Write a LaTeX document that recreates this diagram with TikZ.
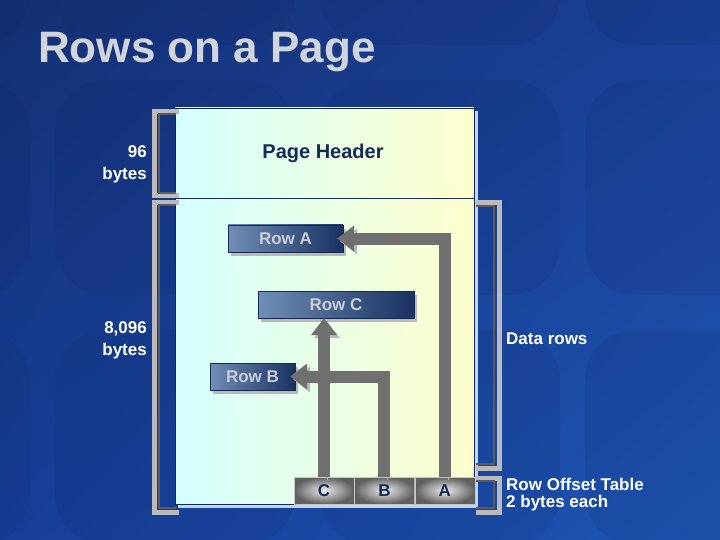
\documentclass[tikz,border=0pt]{standalone}
\usepackage{fontspec}
\setmainfont{Liberation Sans}
\usetikzlibrary{arrows.meta,shadows,shadings,positioning}

\definecolor{bgul}{RGB}{20,48,115}
\definecolor{bgur}{RGB}{26,64,150}
\definecolor{bgll}{RGB}{22,62,152}
\definecolor{bglr}{RGB}{30,86,180}
\definecolor{bgdeco}{RGB}{14,36,96}
\definecolor{navy}{RGB}{22,42,86}
\definecolor{titlegray}{RGB}{208,212,220}
\definecolor{rowlight}{RGB}{112,142,182}
\definecolor{rowdark}{RGB}{26,50,98}
\definecolor{rowtext}{RGB}{200,205,214}
\definecolor{pagecyan}{RGB}{212,255,255}
\definecolor{pageyellow}{RGB}{255,255,205}
\definecolor{pageedge}{RGB}{190,215,245}
\definecolor{arrowgray}{RGB}{112,112,112}
\definecolor{brlight}{RGB}{185,185,190}
\definecolor{brdark}{RGB}{90,90,95}

\tikzset{
  title/.style={text=titlegray, font=\bfseries\fontsize{44}{44}\selectfont, inner sep=0pt},
  lbl/.style={text=white, font=\bfseries\fontsize{17}{22}\selectfont, inner sep=0pt},
  rowbox/.style={draw=navy, left color=rowlight, right color=rowdark, text=rowtext,
    font=\bfseries\fontsize{17}{17}\selectfont, minimum height=27pt, inner sep=0pt,
    drop shadow={shadow xshift=3pt, shadow yshift=-4pt, fill=gray!55, opacity=1}},
  cell/.style={draw=gray!45, inner color=gray!15, outer color=gray!75!black, text=navy,
    font=\bfseries\fontsize{17}{17}\selectfont, minimum width=60pt, minimum height=27pt, inner sep=0pt},
  bigarrow/.style={line width=12pt, draw=arrowgray, line join=miter,
    -{Triangle[length=17pt,width=25pt]},
    preaction={draw=gray!55, transform canvas={xshift=3pt,yshift=-3pt}}},
  brlo/.style={line width=5pt, draw=brlight, line join=miter},
  brhi/.style={line width=2.5pt, draw=brdark, line join=miter},
  tile/.style={fill=bgdeco, opacity=0.12, rounded corners=50pt}
}

\begin{document}
\begin{tikzpicture}[x=1pt,y=-1pt]
  \useasboundingbox (0,0) rectangle (720,540);
  % background
  \shade[upper left=bgul, upper right=bgur, lower left=bgll, lower right=bglr] (0,0) rectangle (720,540);
  \foreach \tx in {-210,55,320,585}
    \foreach \ty in {-170,80,330}
      \fill[tile] (\tx,\ty) rectangle ++(240,215);

  \node[title, anchor=base west] (ttl) at (38,63) {Rows on a Page};

  % the page
  \fill[pageedge] (178,111) rectangle (478,508);
  \shade[left color=pagecyan, right color=pageyellow] (175,108) rectangle (474,504);
  \draw[navy, thin] (175,108) rectangle (474,504);
  \draw[navy, thin] (175,198) -- (474,198);
  \node[text=navy, font=\bfseries\fontsize{20}{20}\selectfont] (hdr) at (323,153) {Page Header};

  % brackets
  \draw[brlo] (179,112) -- (154,112) -- (154,196) -- (179,196);
  \draw[brhi] (176,114) -- (159,114) -- (159,193) -- (176,193);
  \draw[brlo] (179,203) -- (154,203) -- (154,512) -- (179,512);
  \draw[brhi] (176,205) -- (159,205) -- (159,508) -- (176,508);
  \draw[brlo] (476,203) -- (499,203) -- (499,468) -- (476,468);
  \draw[brhi] (476,206) -- (494,206) -- (494,464) -- (476,464);
  \draw[brlo] (476,478) -- (499,478) -- (499,512) -- (476,512);
  \draw[brhi] (476,481) -- (494,481) -- (494,508) -- (476,508);

  % side labels
  \node[lbl, anchor=east, align=right] (hdrsize) at (147,164) {96\\bytes};
  \node[lbl, anchor=east, align=right] (datasize) at (147,340) {8,096\\bytes};
  \node[lbl, anchor=west] (datalbl) at (506,339) {Data rows};
  \node[lbl, anchor=west, align=left, font=\bfseries\fontsize{17}{17}\selectfont] (offlbl) at (506,494.5) {Row Offset Table\\2 bytes each};

  % rows
  \node[rowbox, minimum width=115pt] (rowA) at (285.5,238.5) {Row A};
  \node[rowbox, minimum width=156pt] (rowC) at (336,304.5) {Row C};
  \node[rowbox, minimum width=85pt] (rowB) at (252.5,376.5) {Row B};

  % row offset table
  \node[cell] (cC) at (324,490.5) {C};
  \node[cell, right=0pt of cC] (cB) {B};
  \node[cell, right=0pt of cB] (cA) {A};

  % offsets
  \draw[bigarrow, shorten >=-6pt] (cA.north) |- (rowA.east);
  \draw[bigarrow] (cC.north) -- (cC.north |- rowC.south);
  \draw[bigarrow, shorten >=-5pt] (cB.north) |- (rowB.east);
\end{tikzpicture}
\end{document}
